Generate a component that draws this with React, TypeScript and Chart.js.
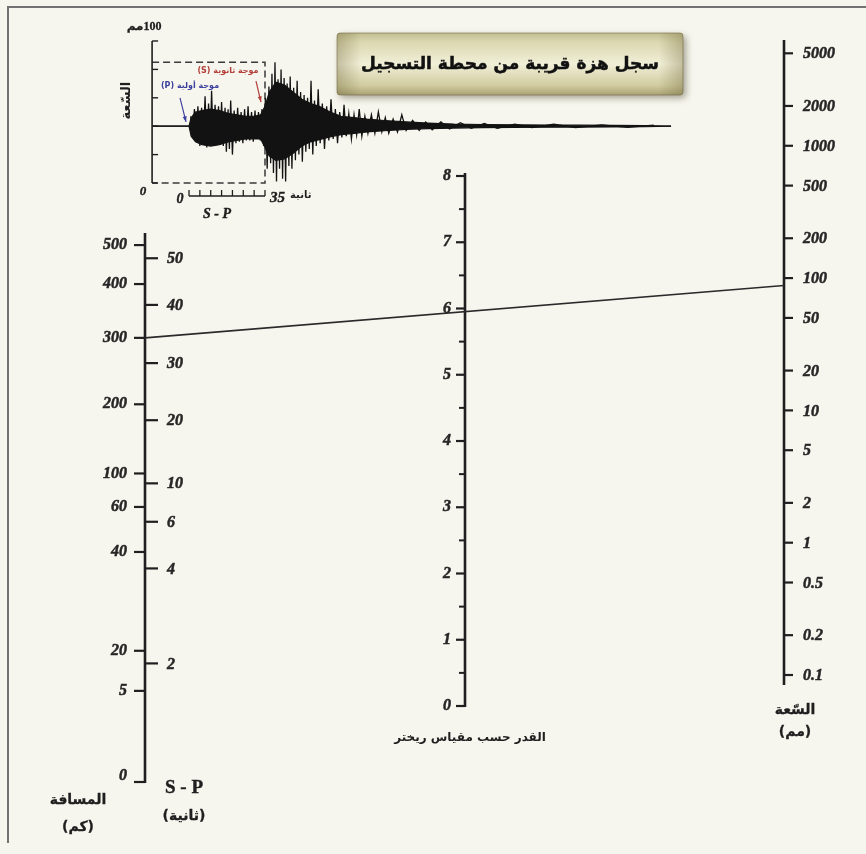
import React, { useEffect, useRef } from 'react';
import { Chart, registerables, LinearScale } from 'chart.js';

// ---------------- data ----------------
// Left nomogram axis: epicentral distance (km) and S-P interval (s).
// Each tick value has a level (0..100) along the hand-drawn nomogram axis.
const distanceTicks = [0, 5, 20, 40, 60, 100, 200, 300, 400, 500];
const distanceLevels = [0, 16.6, 23.9, 41.9, 50.1, 56.2, 68.8, 80.9, 90.7, 97.8];
const spTicks = [2, 4, 6, 10, 20, 30, 40, 50];
const spLevels = [21.6, 38.9, 47.4, 54.4, 65.9, 76.3, 86.9, 95.4];

// Middle axis: Richter magnitude
const magnitudeTicks = [0, 1, 2, 3, 4, 5, 6, 7, 8];
const magnitudeMinorTicks = [0.5, 1.5, 2.5, 3.5, 4.5, 5.5, 6.5, 7.5];

// Right axis: amplitude (mm), logarithmic
const amplitudeTicks = [0.1, 0.2, 0.5, 1, 2, 5, 10, 20, 50, 100, 200, 500, 1000, 2000, 5000];

// Worked reading shown by the straight line
const readingDistanceKm = 300;
const readingAmplitudeMm = 88;

// Seismogram (time in s after P arrival, amplitude in mm)
const seisRecordStart = -17;
const seisBaselineMm = 40;
const seisAxisTicks = [0, 20, 40, 60, 80, 100];
const seisBoxTopMm = 85;
const sMinusPSeconds = 35;
const spRulerTicks = [0, 5, 10, 15, 20, 25, 30, 35];

const seisTime = [-17, 0, 1, 3, 6, 10, 14, 18, 22, 26, 30, 33, 35, 37, 40, 44, 48, 52, 56, 60, 65, 70, 76, 82, 90, 100, 110, 122, 135, 150, 165, 180, 195, 210, 222];
const seisUpper = [0, 0, 6, 10, 11, 12, 11, 9, 8, 7, 7, 8, 14, 24, 31, 29, 24, 19, 16, 14, 10, 7, 6, 5, 4, 3, 2.2, 1.5, 1.2, 1, 0.8, 0.7, 0.6, 0.5, 0];
const seisLower = [0, 0, 7, 11, 13, 14, 13, 11, 10, 9, 9, 9, 15, 21, 24, 23, 19, 14, 11, 9.5, 7.5, 6, 5, 4, 3.2, 2.2, 1.7, 1.3, 1, 0.8, 0.7, 0.6, 0.5, 0.4, 0];

const spikeTime = [
  0.8, 1.6, 2.5, 3.3, 4.1, 5, 5.8, 6.6, 7.4, 8.2, 9, 9.8, 10.4, 11.2, 12, 12.8, 13.6, 14.4, 15, 15.8,
  16.6, 17.2, 18, 18.6, 19.2, 20, 20.8, 21.6, 22.4, 23.2, 24, 24.8, 25.6, 26.4, 27.2, 28, 28.8, 29.6, 30.4, 31.2,
  32, 32.8, 33.6, 34.4, 35.2, 36, 36.8, 37.6, 38.2, 38.9, 39.6, 40.3, 41, 41.7, 42.4, 43.1, 43.8, 44.5, 45.2, 46,
  46.6, 47.4, 48.2, 49, 49.8, 50.6, 51.4, 52.2, 53, 53.8, 54.6, 55.4, 56.2, 57, 57.8, 58.6, 59.5, 60.4, 61.4, 62.4,
  63.4, 64.4, 65.4, 66.4, 67.4, 68.4, 69.4, 70.4, 71.4, 72.4, 73.6, 74.8, 76, 77.2, 78.4, 79.6, 81, 82.4, 84, 85.6,
  87.2, 88.8, 90.4, 92, 94, 96, 98, 100, 103, 106, 109, 112, 116, 120, 125, 130, 136, 142, 150, 158,
  168, 178, 190, 202, 214,
];
const spikeValue = [
  7, -8, 12, -10, 14, -14, 13, -12, 21, -15, 16, -13, 25, -14, 15, -11, 14, -13, 17, -14,
  13, -18, 12, -16, 18, -20, 11, -12, 13, -11, 10, -12, 12, -10, 14, -10, 10, -11, 11, -9,
  10, -10, 12, -14, 20, -30, 28, -26, 37, -33, 45, -39, 33, -30, 40, -37, 34, -39, 30, -28,
  35, -30, 27, -24, 32, -20, 24, -25, 22, -18, 20, -16, 32, -20, 18, -14, 26, -12, 16, -16,
  14, -10, 19, -9, 12, -12, 10, -8, 15, -7, 9, -9, 8, -6, 12, -7, 7, -5, 8, -5,
  10, -4, 6, -5, 5, -4, 8, -3, 4, -3, 3, -2.5, 3, -2, 2.5, -1.5, 2, -1.5, 1.5, -1,
  1.5, -1, 1, -0.8, 0.8,
];

// texts
const TITLE = 'سجل هزة قريبة من محطة التسجيل';
const MAG_TITLE = 'القدر حسب مقياس ريختر';
const AMP_TITLE = 'السّعة';
const AMP_UNIT = '(مم)';
const DIST_TITLE = 'المسافة';
const DIST_UNIT = '(كم)';
const SP_TITLE = 'S - P';
const SP_UNIT = '(ثانية)';
const P_LABEL = 'موجة أولية (P)';
const S_LABEL = 'موجة ثانوية (S)';
const SEIS_TOP_LABEL = '100مم';
const SECONDS = 'ثانية';

// ---------------- layout (pixels) ----------------
const W = 866;
const H = 854;
const L = {
  leftX: 145,
  magX: 465,
  ampX: 784,
  levelBottomY: 782,
  levelTopY: 233,
  mag0Y: 706,
  mag8Y: 176,
  ampLowY: 675,
  ampHighY: 53.3,
  ampSpineTop: 40,
  ampSpineBottom: 685,
  seisT0X: 189,
  seisT35X: 265,
  seisZeroY: 183,
  seisHundredY: 41,
};

const BG = '#f7f6ee';
const INK = '#1f1f1f';
const NUM_FONT = 'italic bold 16px "Liberation Serif", "DejaVu Serif", serif';
const AR_FONT = (px: number) => `bold ${px}px "DejaVu Sans", sans-serif`;

function fitLinear(p0: number, v0: number, p1: number, v1: number, len: number) {
  const s = (v1 - v0) / (p1 - p0);
  const a = v0 - p0 * s;
  const b = v0 + (len - p0) * s;
  return { min: Math.min(a, b), max: Math.max(a, b) };
}
function fitLog(p0: number, v0: number, p1: number, v1: number, len: number) {
  const r = fitLinear(p0, Math.log10(v0), p1, Math.log10(v1), len);
  return { min: Math.pow(10, r.min), max: Math.pow(10, r.max) };
}
function interp(v: number, xs: number[], ys: number[]) {
  let i = 0;
  while (i < xs.length - 2 && v > xs[i + 1]) i++;
  const t = (v - xs[i]) / (xs[i + 1] - xs[i]);
  return ys[i] + t * (ys[i + 1] - ys[i]);
}

const nomogramKnots: Record<string, [number[], number[]]> = {
  yDist: [distanceTicks, distanceLevels],
  ySP: [spTicks, spLevels],
};

class NomogramScale extends LinearScale {
  static id = 'nomogram';
  static defaults = LinearScale.defaults;
  getPixelForValue(value: number) {
    const k = nomogramKnots[(this as any).id];
    return super.getPixelForValue(interp(value, k[0], k[1]));
  }
  getPixelForLevel(level: number) {
    return super.getPixelForValue(level);
  }
}

Chart.register(...registerables, NomogramScale as any);

function txt(ctx: CanvasRenderingContext2D, s: string, x: number, y: number, font: string, align: CanvasTextAlign, rtl = false, color = INK, heavy = 0) {
  ctx.save();
  ctx.font = font;
  ctx.fillStyle = color;
  ctx.strokeStyle = color;
  ctx.textAlign = align;
  ctx.textBaseline = 'middle';
  (ctx as any).direction = rtl ? 'rtl' : 'ltr';
  ctx.fillText(s, x, y);
  if (heavy > 0) {
    ctx.lineWidth = heavy;
    ctx.strokeText(s, x, y);
  }
  ctx.restore();
}
function seg(ctx: CanvasRenderingContext2D, x0: number, y0: number, x1: number, y1: number, w: number, color = INK) {
  ctx.save();
  ctx.strokeStyle = color;
  ctx.lineWidth = w;
  ctx.beginPath();
  ctx.moveTo(x0, y0);
  ctx.lineTo(x1, y1);
  ctx.stroke();
  ctx.restore();
}
function arrow(ctx: CanvasRenderingContext2D, x0: number, y0: number, x1: number, y1: number, color: string) {
  seg(ctx, x0, y0, x1, y1, 1.2, color);
  const a = Math.atan2(y1 - y0, x1 - x0);
  ctx.save();
  ctx.fillStyle = color;
  ctx.beginPath();
  ctx.moveTo(x1, y1);
  ctx.lineTo(x1 - 6 * Math.cos(a - 0.35), y1 - 6 * Math.sin(a - 0.35));
  ctx.lineTo(x1 - 6 * Math.cos(a + 0.35), y1 - 6 * Math.sin(a + 0.35));
  ctx.closePath();
  ctx.fill();
  ctx.restore();
}

const decorPlugin = {
  id: 'nomogramDecor',
  beforeDraw(chart: any) {
    const ctx: CanvasRenderingContext2D = chart.ctx;
    ctx.save();
    ctx.fillStyle = BG;
    ctx.fillRect(0, 0, chart.width, chart.height);
    ctx.restore();
    seg(ctx, 8, 7, 8, 843, 2, '#727272');
    seg(ctx, 7, 7, W, 7, 2, '#727272');
  },
  afterDatasetsDraw(chart: any) {
    const ctx: CanvasRenderingContext2D = chart.ctx;
    const sx = chart.scales.xSeis;
    const sy = chart.scales.ySeis;
    const mag = chart.scales.yMag;
    const amp = chart.scales.yAmp;
    const dist = chart.scales.yDist;
    const sp = chart.scales.ySP;

    // ---- seismogram axis ----
    const ax = sx.getPixelForValue(seisRecordStart);
    seg(ctx, ax, sy.getPixelForValue(100), ax, sy.getPixelForValue(0), 1.6);
    seisAxisTicks.forEach((v) => {
      const y = sy.getPixelForValue(v);
      seg(ctx, ax, y, ax + 6, y, 1.4);
    });
    txt(ctx, '0', ax - 9, sy.getPixelForValue(0) + 9, 'italic bold 13px "Liberation Serif", serif', 'center', false, INK, 0.4);
    txt(ctx, SEIS_TOP_LABEL, ax - 8, sy.getPixelForValue(100) - 14, 'bold 12px "Liberation Serif", "DejaVu Sans", serif', 'center', true, INK, 0.3);
    ctx.save();
    ctx.translate(ax - 25, sy.getPixelForValue(seisBaselineMm + 18));
    ctx.rotate(-Math.PI / 2);
    txt(ctx, AMP_TITLE, 0, 0, AR_FONT(13), 'center', true);
    ctx.restore();

    // S-P ruler
    const ry = sy.getPixelForValue(0) + 13;
    const rx0 = sx.getPixelForValue(0);
    const rx1 = sx.getPixelForValue(sMinusPSeconds);
    seg(ctx, rx0, ry, rx1, ry, 1.5);
    spRulerTicks.forEach((t) => {
      const x = sx.getPixelForValue(t);
      seg(ctx, x, ry, x, ry - 6, 1.3);
    });
    txt(ctx, '0', rx0 - 9, ry + 3, 'italic bold 14px "Liberation Serif", serif', 'center', false, INK, 0.4);
    txt(ctx, String(sMinusPSeconds), rx1 + 5, ry + 2, 'italic bold 15px "Liberation Serif", serif', 'left', false, INK, 0.4);
    txt(ctx, SECONDS, rx1 + 25, ry - 1, AR_FONT(10), 'left', true);
    txt(ctx, SP_TITLE, rx0 + 28, ry + 18, 'italic bold 14px "Liberation Serif", serif', 'center', false, INK, 0.4);

    // arrival arrows and labels
    const pEndX = sx.getPixelForValue(0) - 3;
    const pEndY = sy.getPixelForValue(seisBaselineMm + 3);
    arrow(ctx, pEndX - 6, pEndY - 24, pEndX, pEndY, '#3b3f9e');
    txt(ctx, P_LABEL, pEndX + 4, pEndY - 36, AR_FONT(8), 'center', true, '#3b3f9e');
    const sEndX = sx.getPixelForValue(sMinusPSeconds) - 4;
    const sEndY = sy.getPixelForValue(seisBaselineMm + 17);
    arrow(ctx, sEndX - 5, sEndY - 21, sEndX, sEndY, '#b23f38');
    txt(ctx, S_LABEL, sEndX - 33, sEndY - 31, AR_FONT(8), 'center', true, '#b23f38');

    // ---- title box ----
    const bx = 337, by = 33, bw = 346, bh = 62;
    ctx.save();
    ctx.shadowColor = 'rgba(60,55,30,0.45)';
    ctx.shadowBlur = 7;
    ctx.shadowOffsetX = 3;
    ctx.shadowOffsetY = 3;
    const g = ctx.createLinearGradient(0, by, 0, by + bh);
    g.addColorStop(0, '#c2bd90');
    g.addColorStop(0.15, '#dcd8b1');
    g.addColorStop(0.5, '#f1efd8');
    g.addColorStop(0.85, '#d0cb9f');
    g.addColorStop(1, '#a9a376');
    ctx.fillStyle = g;
    ctx.beginPath();
    (ctx as any).roundRect(bx, by, bw, bh, 3);
    ctx.fill();
    ctx.restore();
    ctx.save();
    const hg = ctx.createLinearGradient(bx, 0, bx + bw, 0);
    hg.addColorStop(0, 'rgba(110,100,55,0.35)');
    hg.addColorStop(0.07, 'rgba(110,100,55,0)');
    hg.addColorStop(0.93, 'rgba(110,100,55,0)');
    hg.addColorStop(1, 'rgba(110,100,55,0.35)');
    ctx.fillStyle = hg;
    ctx.beginPath();
    (ctx as any).roundRect(bx, by, bw, bh, 3);
    ctx.fill();
    ctx.strokeStyle = 'rgba(110,100,60,0.55)';
    ctx.lineWidth = 1;
    ctx.stroke();
    ctx.restore();
    let ts = 21;
    ctx.save();
    ctx.font = AR_FONT(ts);
    while (ctx.measureText(TITLE).width > 306 && ts > 10) {
      ts -= 1;
      ctx.font = AR_FONT(ts);
    }
    ctx.restore();
    txt(ctx, TITLE, bx + bw / 2, by + bh / 2 + 1, AR_FONT(ts), 'center', true, '#111', 0.5);

    // ---- left axis (distance / S-P) ----
    const lTop = dist.getPixelForLevel(100);
    const lBot = dist.getPixelForLevel(0);
    seg(ctx, L.leftX, lTop, L.leftX, lBot + 1, 2.6);
    distanceTicks.forEach((v) => {
      const y = dist.getPixelForValue(v);
      seg(ctx, L.leftX - 11, y, L.leftX, y, 2.2);
      txt(ctx, String(v), L.leftX - 18, v === 0 ? y - 6 : y, NUM_FONT, 'right', false, '#262626', 0.5);
    });
    spTicks.forEach((v) => {
      const y = sp.getPixelForValue(v);
      seg(ctx, L.leftX, y, L.leftX + 13, y, 2.2);
      txt(ctx, String(v), L.leftX + 22, y + 1, NUM_FONT, 'left', false, '#262626', 0.5);
    });
    txt(ctx, DIST_TITLE, 78, 800, AR_FONT(14), 'center', true, INK, 0.3);
    txt(ctx, DIST_UNIT, 78, 827, AR_FONT(14), 'center', true, INK, 0.3);
    txt(ctx, SP_TITLE, 184, 788, 'bold 19px "Liberation Serif", serif', 'center', false, INK, 0.4);
    txt(ctx, SP_UNIT, 184, 816, AR_FONT(14), 'center', true, INK, 0.3);

    // ---- magnitude axis ----
    seg(ctx, L.magX, mag.getPixelForValue(8) - 3, L.magX, mag.getPixelForValue(0) + 1, 2.6);
    magnitudeTicks.forEach((v) => {
      const y = mag.getPixelForValue(v);
      seg(ctx, L.magX - 9, y, L.magX, y, 2.2);
      txt(ctx, String(v), L.magX - 14, y, NUM_FONT, 'right', false, '#262626', 0.5);
    });
    magnitudeMinorTicks.forEach((v) => {
      const y = mag.getPixelForValue(v);
      seg(ctx, L.magX - 6, y, L.magX, y, 2);
    });
    txt(ctx, MAG_TITLE, L.magX + 5, mag.getPixelForValue(0) + 32, AR_FONT(12), 'center', true);

    // ---- amplitude axis ----
    seg(ctx, L.ampX, L.ampSpineTop, L.ampX, L.ampSpineBottom, 2.6);
    amplitudeTicks.forEach((v) => {
      const y = amp.getPixelForValue(v);
      seg(ctx, L.ampX, y, L.ampX + 9, y, 2.2);
      txt(ctx, String(v), L.ampX + 19, y + 1, NUM_FONT, 'left', false, '#262626', 0.5);
    });
    txt(ctx, AMP_TITLE, L.ampX + 11, 710, AR_FONT(14), 'center', true, INK, 0.3);
    txt(ctx, AMP_UNIT, L.ampX + 11, 732, AR_FONT(14), 'center', true, INK, 0.3);

    // ---- reading line ----
    seg(ctx, L.leftX, dist.getPixelForValue(readingDistanceKm), L.ampX, amp.getPixelForValue(readingAmplitudeMm), 1.6, '#2a2a2a');
  },
};

export default function App() {
  const ref = useRef<HTMLCanvasElement | null>(null);
  useEffect(() => {
    if (!ref.current) return;
    const xs = fitLinear(L.seisT0X, 0, L.seisT35X, 35, W);
    const ys = fitLinear(L.seisZeroY, 0, L.seisHundredY, 100, H);
    const ym = fitLinear(L.mag0Y, 0, L.mag8Y, 8, H);
    const yl = fitLinear(L.levelBottomY, 0, L.levelTopY, 100, H);
    const ya = fitLog(L.ampLowY, 0.1, L.ampHighY, 5000, H);

    const upper = seisTime.map((t, i) => ({ x: t, y: seisBaselineMm + seisUpper[i] }));
    const lower = seisTime.map((t, i) => ({ x: t, y: seisBaselineMm - seisLower[i] }));
    const spikes = spikeTime.map((t, i) => ({ x: t, y: seisBaselineMm + spikeValue[i] }));
    const box = [
      { x: seisRecordStart, y: seisBoxTopMm },
      { x: sMinusPSeconds, y: seisBoxTopMm },
      { x: sMinusPSeconds, y: 0 },
      { x: seisRecordStart, y: 0 },
    ];
    const common = { xAxisID: 'xSeis', yAxisID: 'ySeis', pointRadius: 0, tension: 0 };
    const hidden = (extra: any) => ({ display: false, bounds: 'data', ...extra });

    const chart = new Chart(ref.current, {
      type: 'line',
      data: {
        datasets: [
          { ...common, label: 'upper', data: upper, borderColor: '#121212', borderWidth: 1.2, backgroundColor: '#121212', fill: '+1' },
          { ...common, label: 'lower', data: lower, borderColor: '#121212', borderWidth: 1.2, fill: false },
          { ...common, label: 'trace', data: spikes, borderColor: '#121212', borderWidth: 1.3, fill: false },
          { ...common, label: 'box', data: box, borderColor: '#3a3a3a', borderWidth: 1.5, borderDash: [7, 4], fill: false },
        ],
      } as any,
      options: {
        animation: false,
        responsive: false,
        devicePixelRatio: 1,
        events: [],
        layout: { padding: 0, autoPadding: false },
        plugins: { legend: { display: false }, tooltip: { enabled: false } },
        scales: {
          xSeis: hidden({ type: 'linear', axis: 'x', min: xs.min, max: xs.max }),
          ySeis: hidden({ type: 'linear', axis: 'y', min: ys.min, max: ys.max }),
          yMag: hidden({ type: 'linear', axis: 'y', min: ym.min, max: ym.max }),
          yAmp: hidden({ type: 'logarithmic', axis: 'y', min: ya.min, max: ya.max }),
          yDist: hidden({ type: 'nomogram', axis: 'y', min: yl.min, max: yl.max }),
          ySP: hidden({ type: 'nomogram', axis: 'y', min: yl.min, max: yl.max }),
        },
      } as any,
      plugins: [decorPlugin as any],
    });
    return () => chart.destroy();
  }, []);
  return (
    <div style={{ position: 'fixed', left: 0, top: 0, width: W, height: H }}>
      <canvas ref={ref} width={W} height={H} style={{ width: W, height: H, display: 'block' }} />
    </div>
  );
}
